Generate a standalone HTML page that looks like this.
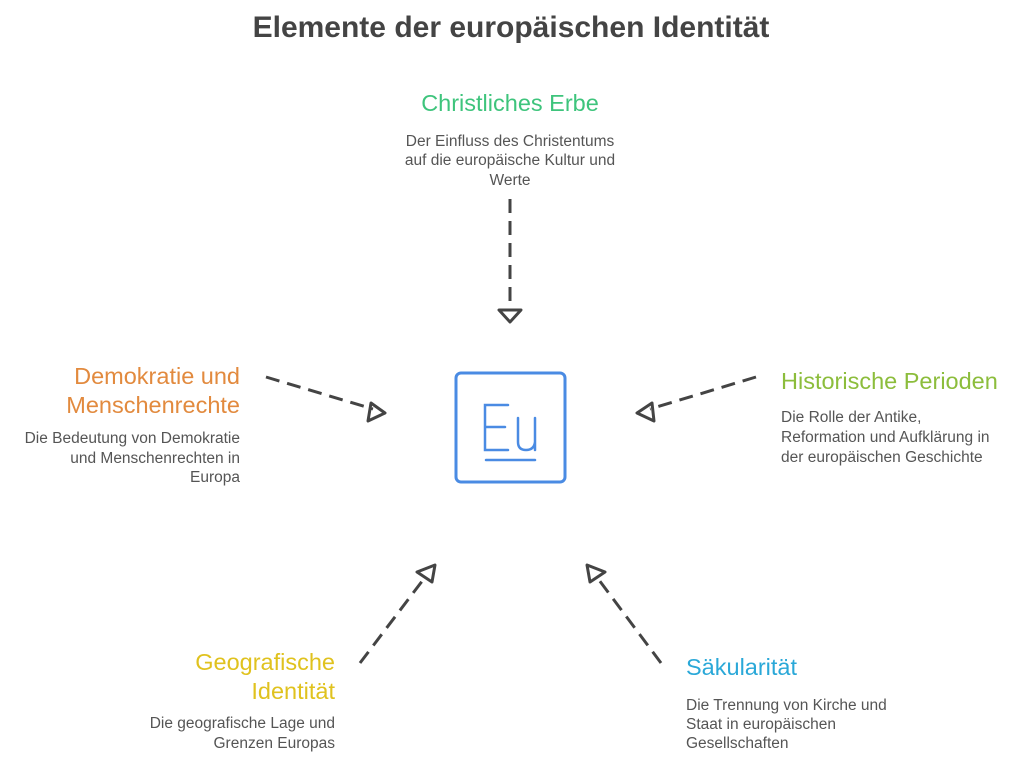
<!DOCTYPE html>
<html><head><meta charset="utf-8"><style>
html,body{margin:0;padding:0;background:#fff;}
svg{display:block;}
text{font-family:"Liberation Sans",sans-serif;}
.b{font-size:15.5px;fill:#555;}
.h{font-size:23.5px;}
</style></head><body>
<svg width="1024" height="771" viewBox="0 0 1024 771" xmlns="http://www.w3.org/2000/svg">
<text x="511" y="37" text-anchor="middle" font-size="30" font-weight="bold" fill="#444">Elemente der europäischen Identität</text>

<text x="510" y="111" text-anchor="middle" class="h" fill="#3ec47c">Christliches Erbe</text>
<text x="510" y="146" text-anchor="middle" class="b">Der Einfluss des Christentums</text>
<text x="510" y="165" text-anchor="middle" class="b">auf die europäische Kultur und</text>
<text x="510" y="185" text-anchor="middle" class="b">Werte</text>

<text x="240" y="384" text-anchor="end" class="h" fill="#e28a3e">Demokratie und</text>
<text x="240" y="413" text-anchor="end" class="h" fill="#e28a3e">Menschenrechte</text>
<text x="240" y="443" text-anchor="end" class="b">Die Bedeutung von Demokratie</text>
<text x="240" y="463" text-anchor="end" class="b">und Menschenrechten in</text>
<text x="240" y="482" text-anchor="end" class="b">Europa</text>

<text x="781" y="389" class="h" fill="#8cbd3c">Historische Perioden</text>
<text x="781" y="422" class="b">Die Rolle der Antike,</text>
<text x="781" y="442" class="b">Reformation und Aufklärung in</text>
<text x="781" y="462" class="b">der europäischen Geschichte</text>

<text x="335" y="670" text-anchor="end" class="h" fill="#e0c21e">Geografische</text>
<text x="335" y="699" text-anchor="end" class="h" fill="#e0c21e">Identität</text>
<text x="335" y="728" text-anchor="end" class="b">Die geografische Lage und</text>
<text x="335" y="748" text-anchor="end" class="b">Grenzen Europas</text>

<text x="686" y="675" class="h" fill="#2aa8d8">Säkularität</text>
<text x="686" y="710" class="b">Die Trennung von Kirche und</text>
<text x="686" y="729" class="b">Staat in europäischen</text>
<text x="686" y="748" class="b">Gesellschaften</text>

<rect x="456" y="373" width="109" height="109" rx="5" fill="none" stroke="#4a8be3" stroke-width="3"/>
<g fill="none" stroke="#4a8be3" stroke-width="2.5" stroke-linecap="round">
<path d="M508 405 H485 V450 H508 M485 427 H505"/>
<path d="M518 418 V442 Q518 450 526 450 Q534 450 535 442 M535 418 V450"/>
<path d="M486 460 H535"/>
</g>

<g fill="none" stroke="#444" stroke-width="3" stroke-linejoin="round">
<path d="M510 199 V308" stroke-dasharray="14 8"/>
<path d="M499 310 L521 310 L510 322 Z"/>
<path d="M266 377 L373 409" stroke-dasharray="14 8"/>
<path d="M371 403 L385 413 L368 421 Z"/>
<path d="M756 377 L650 409" stroke-dasharray="14 8"/>
<path d="M652 403 L637 413 L654 421 Z"/>
<path d="M360 663 L426 576" stroke-dasharray="14 8"/>
<path d="M417 572 L435 565 L432 582 Z"/>
<path d="M661 663 L596 576" stroke-dasharray="14 8"/>
<path d="M605 572 L587 565 L590 582 Z"/>
</g>
</svg>
</body></html>
